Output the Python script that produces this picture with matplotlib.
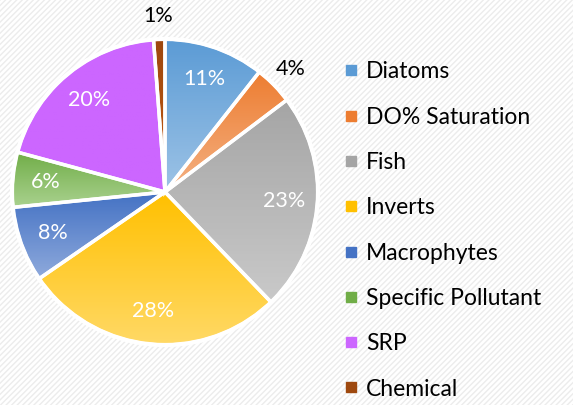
import matplotlib
matplotlib.use("Agg")
import matplotlib.pyplot as plt
import numpy as np
from matplotlib.colors import to_rgb
from matplotlib.lines import Line2D
from matplotlib.patches import Rectangle

categories = ["Diatoms", "DO% Saturation", "Fish", "Inverts", "Macrophytes",
              "Specific Pollutant", "SRP", "Chemical"]
values = [10.6, 4.1, 23.1, 27.6, 8.0, 5.8, 19.6, 1.2]
top_colors = ["#5B9BD5", "#ED7D31", "#A5A5A5", "#FFC000", "#4472C4", "#70AD47", "#CC66FF", "#9E480E"]
bottom_colors = ["#9DC3E6", "#F4B183", "#C9C9C9", "#FFD966", "#8FAADC", "#A9D18E", "#CC66FF", "#C55A11"]
outside_labels = ["DO% Saturation", "Chemical"]

plt.rcParams['font.family'] = ['Lato', 'DejaVu Sans']
plt.rcParams['hatch.linewidth'] = 1.0

W, H = 573, 405
fig = plt.figure(figsize=(W / 100, H / 100), dpi=100)
fig.patches.append(Rectangle((0, 0), 1, 1, transform=fig.transFigure, facecolor='white',
                             edgecolor='#ececec', hatch='//////', linewidth=0, zorder=-10))

cx, cy, R = 165, H - 192, 153
lim = 1.05
size = 2 * lim * R
ax = fig.add_axes([(cx - size / 2) / W, (cy - size / 2) / H, size / W, size / H])
ax.set_xlim(-lim, lim)
ax.set_ylim(-lim, lim)
ax.set_aspect('equal')
ax.axis('off')

wedges, texts, autotexts = ax.pie(values, startangle=90, counterclock=False,
                                  colors=top_colors, autopct='%1.0f%%', pctdistance=0.78,
                                  wedgeprops=dict(edgecolor='white', linewidth=2.5),
                                  textprops=dict(color='white', fontsize=15.5))

for w, ct, cb in zip(wedges, top_colors, bottom_colors):
    path = w.get_path().transformed(w.get_patch_transform())
    verts = path.vertices
    ymin, ymax = verts[:, 1].min(), verts[:, 1].max()
    xmin, xmax = verts[:, 0].min(), verts[:, 0].max()
    t = np.linspace(0, 1, 64)[:, None]
    c0, c1 = np.array(to_rgb(ct)), np.array(to_rgb(cb))
    img = (c0[None, :] * (1 - t) + c1[None, :] * t)[:, None, :]
    im = ax.imshow(img, extent=[xmin, xmax, ymin, ymax], origin='upper', aspect='auto', zorder=1)
    im.set_clip_path(w)
    w.set_facecolor('none')
    w.set_zorder(2)

for cat, w, at in zip(categories, wedges, autotexts):
    at.set_zorder(3)
    if cat in outside_labels:
        ang = np.deg2rad((w.theta1 + w.theta2) / 2)
        r = 1.15
        at.set_position((r * np.cos(ang), r * np.sin(ang)))
        at.set_color('black')

ax.add_patch(plt.Circle((0, 0), 1.0, facecolor='none', edgecolor='white', linewidth=3, zorder=2))
ax.set_xlim(-lim, lim)
ax.set_ylim(-lim, lim)

handles = [Line2D([0], [0], marker='s', linestyle='none', markersize=7,
                  markerfacecolor=c, markeredgecolor=c) for c in top_colors]
fig.legend(handles, categories, loc='upper left', bbox_to_anchor=(333 / W, 1 - 50 / H),
           frameon=False, fontsize=16.5, handlelength=0.6, handletextpad=0.35,
           labelspacing=1.06, borderpad=0)

fig.savefig("out.png", dpi=100)
